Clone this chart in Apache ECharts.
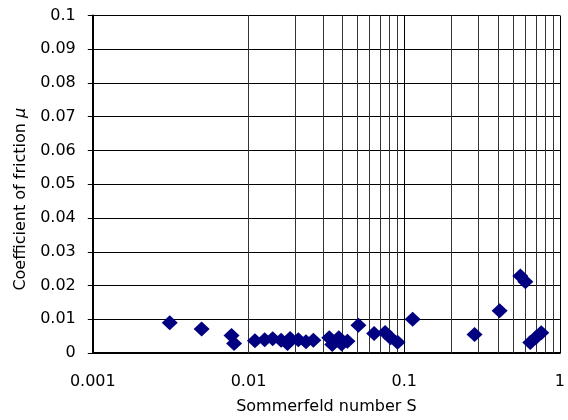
<!DOCTYPE html>
<html>
<head>
<meta charset="utf-8">
<script src="https://cdn.jsdelivr.net/npm/echarts@6/dist/echarts.min.js"></script>
<style>html,body{margin:0;padding:0;background:#fff;}#c{width:568px;height:420px;}</style>
</head>
<body>
<div id="c"></div>
<script>
var sommerfeld = [0.00312,0.0050,0.00778,0.00808,0.0110,0.0127,0.0143,0.0162,0.0178,0.0185,0.0209,0.0234,0.0261,0.0330,0.0345,0.0380,0.0397,0.0432,0.0508,0.0641,0.0754,0.0817,0.0906,0.1133,0.283,0.410,0.557,0.600,0.645,0.701,0.759];
var friction = [0.0090,0.0071,0.0052,0.0028,0.0036,0.0039,0.0042,0.0038,0.0028,0.0043,0.0039,0.0033,0.0038,0.0045,0.0025,0.0045,0.0027,0.0035,0.0082,0.0058,0.0061,0.0045,0.0032,0.0100,0.0055,0.0125,0.0228,0.0211,0.0031,0.0046,0.0060];
var xTickLabels = ['0.001','0.01','0.1','1'];
var minorGridValues = [0.002,0.003,0.004,0.005,0.006,0.007,0.008,0.009,0.02,0.03,0.04,0.05,0.06,0.07,0.08,0.09,0.2,0.3,0.4,0.5,0.6,0.7,0.8,0.9];

var pts = sommerfeld.map(function(s,i){return [s, friction[i]];});
var FONT = 'DejaVu Sans, sans-serif';
var chart = echarts.init(document.getElementById('c'));
chart.setOption({
  animation:false,
  grid:{left:92.8,right:6.7,top:15.5,bottom:62.6,containLabel:false},
  xAxis:{
    type:'log', logBase:10, min:0.001, max:1,
    name:'Sommerfeld number S', nameLocation:'middle', nameGap:46,
    nameTextStyle:{fontFamily:FONT,fontSize:16,color:'#000'},
    axisLine:{lineStyle:{color:'#000',width:2}},
    axisTick:{show:false},
    axisLabel:{fontFamily:FONT,fontSize:16,color:'#000',margin:21,
      formatter:function(v){
        var k = Math.round(Math.log10(v))+3;
        return xTickLabels[k] !== undefined ? xTickLabels[k] : '';
      }},
    splitLine:{show:true,lineStyle:{color:'#000',width:1}}
  },
  yAxis:{
    type:'value', min:0, max:0.1, interval:0.01,
    name:'Coefficient of friction {i|μ}', nameLocation:'middle', nameGap:64, nameRotate:90,
    nameTextStyle:{fontFamily:FONT,fontSize:16,color:'#000',padding:[0,30,0,0],
      rich:{i:{fontFamily:FONT,fontSize:16,fontStyle:'italic',color:'#000'}}},
    axisLine:{show:true,lineStyle:{color:'#000',width:2}},
    axisTick:{show:true,inside:false,length:5,lineStyle:{color:'#000'}},
    axisLabel:{fontFamily:FONT,fontSize:16,color:'#000',margin:17,
      formatter:function(v){return String(Math.round(v*100)/100);}},
    splitLine:{show:true,lineStyle:{color:'#000',width:1}}
  },
  series:[{
    type:'scatter',
    data:pts,
    symbol:'diamond',
    symbolSize:[16,15],
    itemStyle:{color:'#000080',opacity:1},
    markLine:{
      silent:true, symbol:['none','none'], label:{show:false},
      lineStyle:{color:'#333',width:1,type:'solid'},
      data:minorGridValues.map(function(v){return {xAxis:v};})
    },
    z:5
  }]
});
</script>
</body>
</html>
